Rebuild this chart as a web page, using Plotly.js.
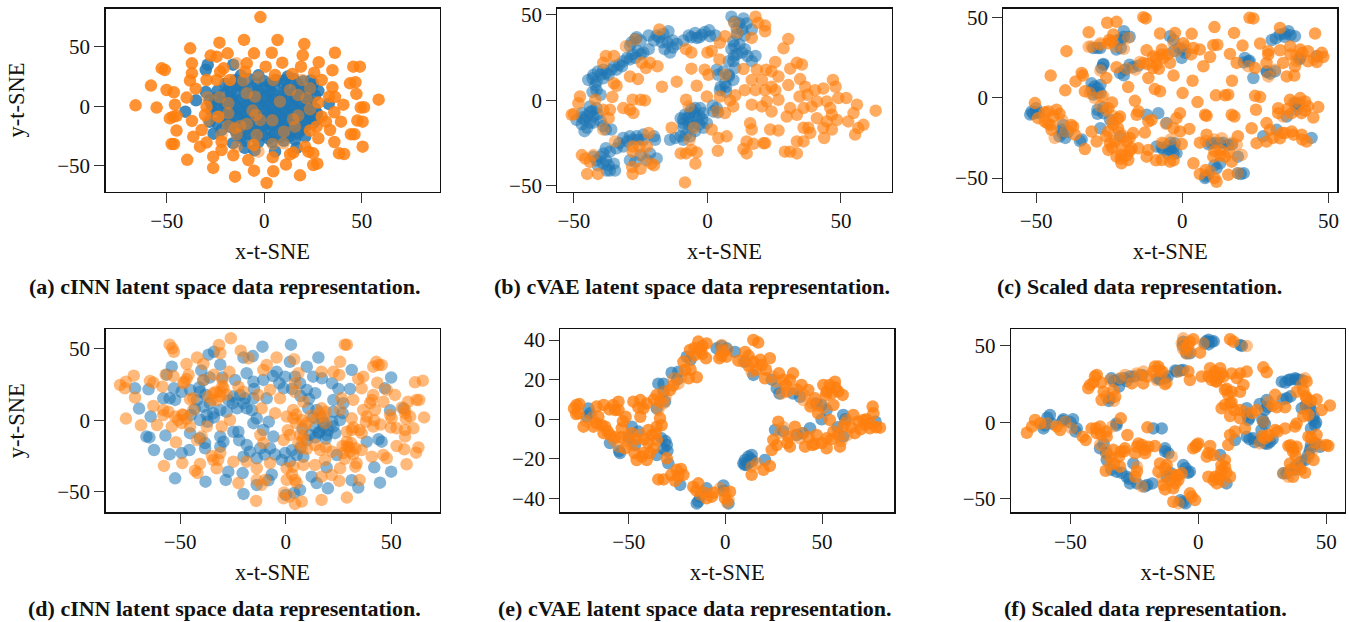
<!DOCTYPE html>
<html><head><meta charset="utf-8">
<script src="https://cdn.plot.ly/plotly-3.0.1.min.js"></script>
<style>html,body{margin:0;padding:0;background:#fff;overflow:hidden}</style>
</head><body><div id="chart" style="width:1349px;height:622px"></div>
<script>
const captions=["(a) cINN latent space data representation.","(b) cVAE latent space data representation.","(c) Scaled data representation.","(d) cINN latent space data representation.","(e) cVAE latent space data representation.","(f) Scaled data representation."];
const xTitle="x-t-SNE", yTitle="y-t-SNE";

const aBlue=[[-29,35],[-30,30.5],[-16,35],[-40.5,-4.5],[-35,5],[10.5,22],[25,19],[27.7,13],[33,2],[-10,-35],[16.6,-35],[15.7,-28],[21,-25.5],[5.5,-38],[-26,-23],[-24.4,-14],[-16,-31],[-5,-37],
[-15,22],[-8,23],[0,21],[6,22],[15,23],[20,21],[-18,16],[-12,17],[-6,15],[1,16],[5,17],[12,15],[18,16],[24,15],
[-21,10],[-14,11],[-8,9],[-2,10],[4,11],[9,9],[15,10],[20,11],[26,9],[-22,4],[-16,5],[-10,3],[-4,4],[2,5],[7,3],[12,4],[18,5],[24,3],
[-24,-2],[-18,-1],[-13,-3],[-7,-2],[-1,-1],[4,-3],[10,-2],[15,-1],[21,-3],[26,-2],[-20,-8],[-14,-7],[-9,-9],[-3,-8],[3,-7],[8,-9],[13,-8],[19,-7],[24,-9],
[-17,-14],[-11,-13],[-5,-15],[1,-14],[6,-13],[12,-15],[17,-14],[22,-13],[-15,-20],[-9,-19],[-3,-21],[3,-20],[9,-19],[14,-21],[19,-20],[-12,-26],[-5,-25],[2,-27],[8,-26],[13,-25],
[-20,19],[-12,20],[-4,19],[3,19],[10,19],[17,19],[-24,13],[-17,13],[-10,14],[-3,13],[3,13],[10,12],[16,13],[22,12],[-25,7],[-18,7],[-12,6],[-6,7],[0,7],[5,6],[11,7],[16,7],[22,7],[-27,1],[-20,2],[-15,1],[-9,0],[-3,1],[2,1],[8,0],[13,1],[18,2],[23,1],[-22,-5],[-16,-4],[-11,-5],[-5,-5],[1,-4],[6,-6],[11,-5],[17,-4],[22,-6],[27,-6],[-19,-11],[-13,-10],[-7,-11],[-1,-10],[5,-10],[10,-12],[15,-11],[21,-11],[25,-14],[-18,-17],[-13,-17],[-7,-17],[-1,-17],[4,-16],[10,-17],[15,-16],[21,-17],[-14,-23],[-8,-23],[-1,-24],[5,-23],[11,-23],[17,-23],[-10,-29],[-3,-30],[4,-30],[10,-29],[-30,12],[-28,5],[-27,-4],[-28,-13],[-22,-20],[27,-11],[24,22],[12,25],[-3,26],[-12,26]];
const aOrange=[[-2,75],[-10.4,55.8],[6.8,55.7],[-23,53.5],[20.5,52.4],[-38,48.7],[-18.8,44.5],[-27.5,42.6],[-24.4,41.7],[-5.3,44.5],[3.8,45],[19.7,42.9],[36.2,45],[-37.1,36.1],[9.2,36.7],[27.9,37],[-14.2,36.1],[-9,36.1],[18.8,33.3],[0.7,33.3],[-52.6,31.9],[-51,30.5],[45.6,33.3],[49,33.3],[34.9,30.3],[-20.9,31.9],[-22.6,29],[-37.1,27.7],[-9.9,29],[25.6,28.3],[14.4,27.2],[5.5,26.3],[-29.6,22.1],[-24.4,22.1],[-17.6,22.1],[-10.8,21.6],[29.4,22.1],[-3.1,24.4],[4.6,22.1],[-38.1,21.6],[19.5,22.1],[-58.1,17.4],[43.9,19.3],[46.7,20.2],[-35.2,14.8],[-50.1,13.7],[-46.4,11.8],[34.9,16],[13.2,13.7],[47.2,10.4],[-39.8,7.3],[33.2,8.1],[36.2,7.8],[23.4,15.1],[17.4,9.5],[21.7,6.7],[-9,10.9],[-4.8,8.1],[-29.2,7.6],[-23,7.6],[58.6,5.6],[-66,0.8],[-45.8,1.4],[-55.2,-1.1],[40.5,1.4],[49.4,-1.1],[51.1,-0.8],[27.7,3.1],[8,3.9],[-18.5,2.5],[-29.6,-0.3],[23.4,-2.5],[35.9,-5],[-6,-3.6],[-45,-8.1],[-46.7,-8.7],[-48.4,-10.1],[-30.4,-7.3],[-23.6,-8.7],[-18.5,-5.9],[-4.3,-7.3],[-2.2,-11.5],[4.1,-11.8],[17.4,-7.8],[14.8,-10.9],[-37.1,-12.3],[-28.7,-11.5],[29.4,-8.7],[39.3,-12.9],[47.7,-12],[50.4,-12.9],[31.6,-12.9],[-9,-14.8],[-12.4,-16.5],[-15,-18.5],[-18.5,-16.5],[15.7,-17.1],[-45,-20.4],[-32.1,-19.9],[33.7,-19.9],[26.8,-17.1],[23.4,-20.4],[-21.9,-24.1],[-36.4,-25.5],[44.4,-23.5],[46.2,-23.5],[-3.9,-24.1],[10.1,-21.3],[27.7,-26.9],[-21.9,-29.7],[-14.2,-23.5],[35.9,-30],[9.9,-31.1],[4.3,-31.7],[-29.6,-30.5],[-47.5,-31.7],[-46.3,-31.7],[-33,-33.9],[-14.2,-33.9],[-5.6,-32.5],[20.9,-33.9],[50.4,-33.9],[-3,-38.1],[22.6,-38.1],[25.1,-39.5],[-21.9,-36.7],[-26.2,-42.3],[-15.9,-41.2],[4.3,-42.9],[13.2,-40.3],[14.9,-38.9],[38.3,-39.5],[40.9,-40.1],[-39.5,-45],[-8.2,-45.1],[11.1,-49],[25.1,-49.3],[27.2,-48.2],[-26.2,-51.8],[-5.3,-54.1],[4.6,-54.6],[-15,-59.1],[18.3,-58],[1.2,-64.4]];

const bBlue=[[-44.6,12],[-42.7,15],[-41,17],[-39,18],[-41.5,11],[-39,13],[-37,15],[-35,20],[-33,21],[-31.5,23],[-30,25],[-28,27],[-26,29],[-24,28],[-27,36],[-28.4,34],[-26.5,37],[-19,38],[-20,35],[-16.5,39],[-14.6,40.5],[-15,34],[-14,28],[-16,30],[-11.5,33],[-7,38],[-4.6,39.5],[-2,38.5],[0.7,41],[1,37.5],[-4,36.6],[9,49],[13.5,48],[14.7,45],[13,41.5],[16.6,41.5],[11,38.5],[9.7,34.6],[12,32.7],[14,30],[9,30],[11,27],[16.6,23],[18,26],[9.7,23],[10.4,19],[3.5,18],[6,17],[4.7,6],[7,5],[6.6,10],[9.7,12],
[-41.5,6],[-40,3.3],[-42,9],[-44,-3.5],[-47,-7.4],[-49,-11.4],[-46,-11.4],[-42.7,-9.4],[-45,-16],[-46,-18],[-41.5,-4.5],[-42.7,-13],[-36,-17],[-38,-17],[-40,-12],
[-39,-31],[-36.5,-30],[-34,-28],[-31.5,-22],[-29,-21],[-26.5,-21],[-24,-23],[-19.6,-23],[-20,-21],[-31.5,-27],[-41.5,-35],[-39,-37],[-36.5,-41],[-34.6,-41],[-37.7,-41],[-42.7,-33],[-29,-35],[-22.7,-35],[-19,-34],[-21.5,-31],
[-14,-23],[-10,-21],[-9,-23],[-6.5,-21],[-10,-10.4],[-8.4,-8.4],[-6.5,-7.4],[-4.6,-4.5],[-2.7,-4.5],[-1.5,-7.4],[-4,-10.4],[-6.5,-12.3],[-9,-13.3],[-5.2,-15.3],[-0.2,-13.3],[-1.5,-16],[3.5,-4.5],[2.2,-6.5],[-4.6,-18],
[-43,13],[-40,15],[-38,16],[-36,18],[-34,18],[-32,20],[-29,24],[-27,25],[-25,27],[-22,30],[-25,35],[-29,32],[-22,38],[-18,37],[-17,34],[-13,31],[-13,35],[-9,35],[-6,37],[-3,37],[-1,40],[3,38],[10,46],[12,45],[11,42],[14,38],[10,32],[13,28],[10,26],[15,26],[8,23],[8,15],[4,15],[5,8],[7,8],[8,14],[-43,5],[-44,-7],[-45,-9],[-43,-6],[-47,-10],[-44,-13],[-41,-8],[-39,-15],[-47,-14],[-38,-28],[-40,-33],[-38,-35],[-37,-38],[-35,-37],[-41,-38],[-33,-25],[-30,-24],[-28,-23],[-26,-23],[-24,-20],[-27,-36],[-25,-32],[-12,-22],[-8,-20],[-9,-11],[-7,-10],[-5,-7],[-3,-9],[-6,-5],[-9,-16],[-7,-14],[-3,-14],[-2,-11],[2,-3],[4,-7]];
const bOrange=[[-18,41.5],[-30.5,31.7],[-27,35.6],[-38,26],[-35,26],[-39,22],[-34,8.6],[-35,10],[-29,14],[-26,12.5],[-24.6,22],[-21.5,22],[-18.7,20],[-23,19],[-17,8],[-11.5,11],[-4,8.6],[-6,18.6],[-8,30],[-6,28],[0,28],[1.6,29],[-1,18],[0.4,15],[4.7,33.7],[6.6,37.6],[4.5,24],[10,45.4],[11,39.5],[16.6,36.6],[18,49],[19,45.4],[21.6,43.8],[21.6,40.5],[30.3,36],[28.5,30.5],[33.5,22],[35.4,21],[31,18.6],[25.4,22.5],[22,18],[18.5,18],[13.5,18.4],[6.6,15],[16.6,12],[20.4,12],[24,17],[26.6,14],[24,8],[18,6],[21.6,6],[25.4,6],[30.3,9],[34.7,12.5],[36.6,8],[40.3,6],[43.4,7],[47,12],[48,8],[14,6],[10.4,3],[8.5,0],[9.7,-3.5],[16.6,-2.5],[20.4,-3.5],[22.2,-0.6],[26.6,0.4],[24,-6.5],[31,-4.5],[29.7,-9.4],[33.5,-8.4],[34.5,2.3],[37.5,3.3],[39,-3.5],[36,-4.5],[41,-0.6],[44.7,-0.6],[49,1.4],[52,1.4],[56,-2.5],[63,-6],[46,-4.5],[41,-10.4],[46.6,-8.4],[44.7,-12.3],[48.5,-11.4],[54.7,-7.4],[52.7,-12.3],[58.4,-14.3],[56.5,-16.2],[55.3,-20],[46.6,-17],[43.4,-16],[37.8,-16],[36,-16],[38.5,-19],[43.7,-22],[36,-24],[33.5,-24],[33.5,-31],[31,-30],[29,-30],[23.5,-17],[26.6,-17.6],[16,-13.3],[16.6,-17],[14.7,-24],[17.2,-25.4],[21.6,-25],[21,-25],[13.5,-28.4],[14.7,-31],[7.2,-21],[4.1,-22],[1.6,-17],[3.9,-29.5],[-6,-29],[-4,-30.5],[-8,-31],[-10,-31],[-4.5,-37],[-8.4,-48],[-6.7,-23],[-13.4,-16],[-5,-16],[-8,0.4],[-7,-3.5],[-0.2,2.3],[4.7,2.3],[3.5,-6.5],[6.6,-7.4],[-25,0.4],[-28,0.4],[-23.4,0],[-31.5,-4.5],[-29,-5.5],[-27.7,-7.4],[-42,0.4],[-35.6,2],[-36.5,-5.5],[-39,-5.5],[-37,-10.4],[-39,-17],[-47.7,2.3],[-48.3,-1.6],[-50.8,-8.4],[-50,-8],[-34.6,-24],[-22,-19],[-28,-27],[-25.4,-27],[-22.7,-27],[-28,-30],[-47,-32],[-45.7,-34],[-42.7,-32],[-44,-36],[-45,-43],[-41,-43],[-28.2,-39],[-28,-43],[-25,-40],[-24,-33],[-21,-37],[-20,-38]];

const cBlue=[[-51.5,-8.5],[-50,-6.5],[-52,-10.5],[-49,-9.5],[-40.7,-17],[-41.3,-20],[-40,-25],[-34.4,-26],[-27,20.6],[-27.6,18.5],[-31,9],[-29,6],[-30.4,2],[-28,3],[-29,-7.5],[-27,-9.6],[-28,-19],[-24.7,-13.7],[-21.3,-24],[-20,41.5],[-22,36],[-22.5,30],[-30.4,31],[-28,31],[-21.3,15.4],[-19.6,17.5],[-18,20.6],[-12.2,-10.6],[-8.2,-9.6],[-5.4,-15.8],[-4.2,38.3],[-3,29],[0.3,30],[-0.2,24.8],[-8.8,-30.4],[-6.5,-32.5],[-4.2,-32.5],[-2.5,-28.3],[-2,-34.6],[10,-28.3],[12.9,-28.3],[15.7,-29.4],[12.9,-40.8],[11.7,-44],[7.8,-50],[8.9,-48],[20,-47.5],[19,-36.7],[21.4,24.8],[22.6,22.7],[24.3,12.3],[28.8,16.5],[31.7,16.5],[33.4,39.4],[36.3,41.5],[38.5,38.3],[30.6,36],[40.3,24.8],[38.5,-3.3],[39,-7.5],[35.7,-11.7],[32.3,-20],[27.7,-24],[44.2,-25],[46,25.8],
[-51,-10],[-50,-9],[-41,-22],[-39,-21],[-42,-24],[-35,-27],[-27,21],[-30,7],[-28,8],[-29,3],[-31,5],[-27,-6],[-29,-10],[-21,36],[-20,38],[-18,38],[-21,31],[-29,31],[-20,14],[-17,19],[-15,20],[-3,36],[-1,31],[1,28],[-7,-31],[-5,-30],[-3,-31],[-4,-28],[-3,-35],[-5,-35],[9,-29],[11,-28],[14,-28],[17,-29],[11,-42],[19,-47],[21,-47],[8,-49],[35,40],[37,39],[35,38],[32,37],[40,24],[39,-5],[40,-4],[29,16],[30,15],[23,23],[21,22]];
const cOrange=[[-25.7,46.7],[-22.5,47.3],[-32,40.8],[-13.3,50.2],[-12.5,49.4],[23,49.8],[24.3,49.4],[11,44],[17.7,40.4],[45.4,40],[3.2,39.8],[-7.6,40],[-2.5,40.4],[-23.6,39.4],[-18.5,37.3],[-39.6,29],[-32,31.7],[-31,32],[-28,34],[-25.3,34],[-23,32],[-20,30.4],[-12.2,29.6],[10.6,32.7],[12,33],[20.6,32.5],[26.6,33.8],[33.4,43.5],[29.4,29],[33.4,29.6],[36.9,32],[40.3,30],[43,29],[47.7,28],[48.2,25.4],[43,22.7],[46,22.3],[-3,34],[0.3,34],[3.8,31],[6,30],[-7,30],[-10,25.8],[-6.5,24.8],[-4.2,21.7],[-8.8,20.6],[-13.3,21.7],[-14.5,22.3],[-10,18.5],[-16,17.5],[-22.5,19],[9.5,25.4],[7.2,19.6],[16.3,27.3],[18.6,21.7],[22.6,19.6],[24.9,18.5],[28.8,21.7],[29.4,26.9],[34.5,21.7],[38.5,19.6],[35.7,13.3],[38.3,13.8],[29.4,13.3],[31.7,17.5],[-3,13.8],[3.5,10.6],[17,10.6],[-45,13.8],[-34,13.8],[-34.4,15.4],[-28,17],[-26,12.3],[-36.5,10.2],[-11.6,12.3],[-40,4.6],[-18.5,6.7],[-9.4,5.4],[-7.6,4],[0.1,2.9],[-33.3,4],[-27.6,0.8],[11.5,1.5],[14.6,1.5],[15.7,1.9],[24.9,1.2],[26.6,0.4],[-16.2,-1.9],[5.2,-2.7],[25.2,-7.5],[-50.4,-3.3],[-49.3,-12.7],[-45.8,-8.5],[-43,-7.5],[-44,-11.7],[-47,-14.8],[-44.7,-20],[-43.6,-25],[-37.3,-18],[-36.7,-23],[-33.3,-32],[-29.3,-27.3],[-31,-21],[-31.6,2.9],[-25.3,-6.5],[-28,-5.4],[-21.3,-11.7],[-23.6,-16.9],[-25.3,-21],[-24.7,-28.3],[-25.3,-32.5],[-21.3,-22],[-16.8,-22],[-19,-27.3],[-17.3,-31.5],[-15,-31.5],[-20.8,-35.6],[-22.5,-36.7],[-18.5,-38.8],[-20.8,-40.8],[-12.2,-36.7],[-11.6,-32.5],[-12.8,-21.7],[-15,-8.5],[-11.6,-14.8],[-10.5,-13.8],[-15.6,-10.6],[-0.8,-9.6],[-2,-12.7],[2.4,-19.4],[-0.8,-21],[-3,-19],[-5.6,-16.3],[-6.5,-28.3],[-0.2,-28.8],[-7,-38.8],[-4.2,-39.8],[3.8,-40.8],[7.8,-10.6],[8.3,-11.3],[16.9,-10.6],[17.8,-11.7],[8.3,-23],[6,-28],[13.5,-25.2],[19,-24],[18.6,-29.4],[12.9,-32.5],[10.6,-36.7],[14.6,-36.7],[16.9,-39.8],[20.3,-35.6],[6,-47.5],[9.5,-46],[11.7,-52.3],[15.7,-48],[19,-47],[23.7,-19],[28.8,-15.8],[30,-20],[25.4,-28.3],[28.8,-27.3],[34,-22],[33.4,-25.2],[38,-23],[40.8,-23],[42.5,-27.3],[37.4,-21],[32.8,-9.6],[34.5,-11.7],[37.4,-9.6],[36.8,-1.3],[40.3,-0.2],[42,-2.3],[43,-5.4],[46.5,-5.8],[40.8,-9.6],[44.8,-12.3],[32.8,-6.5],
[-47,-9],[-42,-10],[-41,-14],[-46,-16],[-45,-17],[-38,-17],[-40,-21],[-26,-8],[-24,-11],[-22,-13],[-24,-15],[-22,-19],[-26,-24],[-20,-24],[-18,-25],[-21,-30],[-18,-33],[-21,-38],[-19,-36],[-24,-31],[-23,-27],[-9,-39],[-3,-39],[-4,-26],[-7,-28],[8,-27],[11,-26],[13,-36],[11,-33],[16,-34],[17,-28],[8,-45],[11,-50],[-7,27],[-9,25],[-5,27],[-2,29],[1,32],[3,27],[-12,21],[-8,18],[-19,18],[39,26],[37,27],[39,23],[41,28],[46,26],[45,24],[-25,36],[-28,33],[-24,35],[36,-7],[38,-3],[40,-3],[42,-8],[35,-22],[31,-25],[41,-26],[-24,-3],[-27,1],[-30,0]];

const dBlue=[[2.5,53],[-11,51.6],[15.5,44],[-15.6,45],[-20,44],[-34,48],[-36.6,46],[-54,37.6],[-56.4,32],[31.3,35.3],[10,37.6],[50,30],[2,41],[-31,39],[-40,35],[-71.4,22.4],[-65,21.7],[-69.5,8.2],[-64,2.6],[-66,-11.4],[-64.6,-12],[-62.4,-20.8],[-55,-23.8],[-57,-10.7],[-49.3,-23],[-45.6,-20.8],[-52.4,-40.7],[-38,-43],[-28.4,-41.8],[-20,-51.6],[-20.4,-37],[-27.2,-36],[44.7,-43.7],[50,-36],[42,-33],[34.4,-47.2],[20,-47.7],[6.8,-48.8],[4,-51],[0,-52.3],[19.4,-33],[12.3,-39.5],[14.7,-44],[31.3,-42],[-6.6,-38],[-8.2,-42],[-13.7,-45.3],[38.4,-15],[45.5,-15],[44,-13.3],[47,22.4],[49.5,7],[55.8,8.4],
[-53,22.4],[-58,15.4],[-55,15.4],[-52.4,14.3],[-49.3,20],[-40.6,20],[-42,14.3],[-39,9.6],[-37.4,3.7],[-40.6,0.2],[-34.3,5],[-31,7.2],[-45.3,-9],[-40.6,-12.6],[-38.2,-19.6],[-38.2,-16],[-31,-11.4],[-29.5,-15],[-31,-18.5],[-22.4,-8],[-18.5,-17.3],[-20,-25.5],[-13.7,-26.6],[-12,-19.6],[-7.4,-19.6],[-1.9,-27.8],[-5.8,-11.4],[-10.6,-6.8],[-13.7,1.4],[-15.3,-2],[-18.5,8.4],[-23,8.4],[-24.8,16.6],[-21.6,17.8],[-24,28.3],[-18.5,33],[-15.3,27],[-10.6,28.3],[-4.3,34],[-0.3,30.6],[-1,22.4],[-9,15.4],[-15.3,15.4],[-19.3,15.4],[4.4,30.6],[6.8,26],[10,21.3],[14,19],[17.2,29.4],[13,30.6],[22.6,14.3],[30.5,22],[27.3,12],[10.7,8.4],[14.7,7.2],[22.6,6],[25.8,0.2],[22.6,-4.4],[17.9,-2],[15.5,-9],[19.4,-10.3],[23.4,-9],[11.5,-10.3],[24.2,-24.3],[2,-29],[8.4,-25.5],[-0.3,-23],[5.2,-24.3],[-24.8,-8],[-35.9,12],[-45.3,21.3],[-45,3.7],
[14,-5],[16,-8],[18,-5],[20,-7],[14,-12],[19,-13],[22,-1],[17,2],[13,2],[27,5],[-27,14],[-25,12],[-37,-1],[-34,2],[-28,6],[-20,12],[-16,7],[-43,8],[-38,18],[-41,23],[-17,-22],[-10,-24],[-5,-24],[3,-21],[7,-19],[10,-14],[8,-6],[11,15],[7,17],[3,22],[-3,26],[-6,31],[-30,30],[-36,30],[-39,28],[22,26],[25,22],[-22,-14],[-8,-1],[-15,22]];
const dOrange=[[-26,57.5],[-55,53],[-53.7,50.5],[-53,48],[-31.6,52.8],[28,53],[29,53],[-21.3,48.8],[-17.6,43.5],[-4.3,44],[4,42.8],[-42,44],[-31,47],[-47,39.5],[-39,39.5],[25.8,41],[43,41],[44,38.8],[45.5,38.8],[41.5,37.6],[-9,38.8],[-10.6,35.3],[-26.7,34],[17,34],[22.6,34],[25.4,31.8],[6,33],[-72,31.3],[-78.5,24.8],[-75.7,27],[-76.2,22.4],[-64.3,27.6],[-62.7,26.4],[-56.9,32],[-53.2,31],[-46,32],[-48,27],[-48.5,26],[-39,28.3],[-34,32],[-30,28.3],[36.8,30.6],[34.4,29],[65,27.8],[61.3,26.6],[43.4,26.4],[36,22.4],[-71.4,16],[-58.4,23.6],[-45.3,14.7],[-43.8,15.4],[-34.3,19],[-31,20],[-36.6,16.6],[-32.6,14.3],[-29.5,22.4],[-22.4,23.6],[-13,17.8],[-7.4,21.3],[-2.7,15.4],[4.4,26],[4.4,20],[41.5,17.8],[40.8,14.3],[47.9,21.3],[51.8,17.8],[46.3,13],[58,13],[62,14.3],[63.3,14.3],[26.5,15.4],[32,14.3],[-62.7,10],[-58,7.2],[-58,3.7],[-55.6,6],[-52.4,2.6],[-48.5,3.7],[-50.9,0.2],[-43.8,7.2],[-75.7,1.2],[-61,-3.3],[-68.6,-3.5],[-54,-4.4],[-49.3,-2],[-45.3,-4.4],[-37.4,-4.4],[-30.3,-4.4],[-26.4,0.2],[-11.4,8.4],[-5,5],[8.4,13],[3.6,7.2],[0.5,2.6],[3.6,1.4],[7.6,0.2],[10,-2],[17,8.4],[17.9,2.6],[14.7,1.4],[18.6,-2],[25.8,7.2],[31.3,1.4],[36.8,7.2],[42.3,7.2],[38.4,2.6],[49.5,3.7],[50.2,1.4],[56.6,7.2],[59,2.6],[65.6,2],[56.6,5],[31.3,-6.8],[35,-6.8],[29,-8],[41.5,-4.4],[49.8,-5],[52.6,-5.6],[56.6,-6.8],[60.5,-5.6],[56.6,-11.4],[2,-10.3],[-1,-13.8],[6.8,-10.3],[8.4,-11.4],[6,-16],[7.6,-19.6],[13.9,-17.3],[16.3,-20.8],[-42,-13.8],[-39.8,-11.4],[-52,-15.4],[-12,-10.3],[-10.6,-16],[29,-18.5],[30.5,-22],[27.3,-23],[33,-19.6],[36,-20.8],[40.8,-25.5],[46.3,-24.3],[47.9,-26.6],[52.6,-18],[56.2,-20.3],[62.9,-19],[61.8,-22.7],[57.3,-30.8],[33.6,-30.1],[33,-32.5],[-31,-23],[-32,-27.8],[-34.3,-27.8],[-32.7,-33.6],[-24.8,-29],[-18.5,-29],[-7.4,-30],[-13.7,-33.6],[0.5,-33.6],[3.6,-32.5],[8.4,-31.3],[13.9,-31.3],[18.6,-27.8],[25.8,-33.6],[-57.7,-32],[-49,-30],[-40.6,-30.6],[-43,-35.3],[-41.8,-37],[-22.4,-44],[-13.7,-41.8],[-11.4,-45.3],[-9.8,-41.8],[-14,-56.5],[0.5,-41.8],[4.4,-41.8],[5.2,-44],[25.4,-42.5],[17,-39.5],[21.8,-38.3],[35,-41.8],[-0.8,-50.7],[-1,-54.7],[2,-53.5],[4.4,-58.6],[7.6,-57],[17,-55.8],[29,-54.2],
[-33,20],[-31,17],[-35,14],[-30,24],[-28,18],[5,-2],[9,-4],[12,3],[16,5],[19,6],[5,4],[1,-7],[29,-15],[30,-19],[27,-18],[32,-24],[31,-16],[28,-27],[36,-9],[32,-5],[-47,29],[-49,4],[-47,1],[-20,20],[3,-38],[-35,-25],[8,-14],[10,-20],[22,-22],[19,-19],[40,12],[42,0],[38,-1],[57,1],[55,9],[45,-3]];

const eBlue=[[-70.9,5.5],[-71.7,1.3],[-32,18],[-34.7,18],[-27.8,23.5],[-24.3,24],[-20,31.6],[-4.5,35.8],[0.7,35.8],[5,34],[14.5,22.4],[10.2,29],[26.6,15.6],[38.6,11.4],[49.7,7.2],[52.4,4.7],[49.8,0],[61,2.2],[77.7,-1.2],[25.7,-5.4],[36.9,-7.9],[43.8,-4.5],[61,-8.7],[11.9,-18.8],[13.6,-18],[9.3,-22.2],[11,-23],[10.2,-20.5],[20.5,-20.5],[-1,-33.4],[1.6,-42.4],[-14.8,-42.4],[-14,-41.5],[-9.7,-34.8],[-23.4,-33.1],[-29.5,-22.2],[-30.3,-13],[-33,-9.6],[-35.5,-18],[-45,-6.2],[-48.4,-3.7],[-54.5,-17],[-59.7,-12],[-31.2,9],[-35.5,5.5],[-46.7,-13],
[-70,3],[-32,14],[-25,20],[-18,30],[-2,37],[13,-20],[12,-22],[10,-23],[14,-21],[47,8],[-31,-11],[-32,-15],[-30,-16],[-50,-9],[-55,-16],[-13,-39],[-1,-36],[58,-4],[30,-6],[40,-7],[24,20],[28,13],[35,13],[62,0]];
const eOrange=[[-77,7.2],[-75.5,7.7],[-78.3,5.5],[-77.2,2.7],[-73.4,-3.7],[-66.6,6.4],[-63,7.2],[-58,7.2],[-55.3,8.9],[-57,4.7],[-55.3,4.7],[-51.6,1.3],[-47.6,8.9],[-44,9.7],[-40.7,8],[-42.4,5.5],[-44,1.3],[-65.7,1.3],[-66.6,-2],[-68.3,-3.7],[-62.2,-3.7],[-63,-7],[-59.7,-7.9],[-58,-10.4],[-53.6,-4.5],[-51,-8.7],[-48.4,-7],[-44,-7.9],[-55.3,-13.8],[-51.9,-14.6],[-48.4,-13],[-38,-7.9],[-35.5,-3.7],[-39.8,-5.4],[-37.2,-14.6],[-35.5,-10.4],[-45.9,-20.5],[-40.7,-20.5],[-42.4,-17],[-43.3,-18.8],[-33.8,0.5],[-34.7,4.7],[-35.5,12.3],[-32,14],[-28.6,14.8],[-24.3,18],[-26.6,20.7],[-19,20.7],[-14.8,21.2],[-20.9,24.9],[-21.7,29],[-18.3,35],[-15.7,32.4],[-14,39.2],[-13,35],[-10,30.8],[-9.7,38.3],[-33.8,9],[-32,8],[-1.9,37.5],[-3.1,30.8],[-1,34],[0.7,31.6],[14.5,40],[17,38.7],[10.2,34],[6.7,29.6],[9.3,29],[14.5,29],[18,30],[23,30.8],[13.6,24],[18.8,27.4],[20.5,20.7],[24.8,21.5],[27.7,23.2],[35,23.2],[31.3,17.3],[29,13],[33.4,19.8],[39.4,17.3],[42.9,14.8],[40.3,9.7],[46.4,10.6],[44,6.4],[48,3],[54,-0.3],[50.7,17.3],[52.4,14],[56.7,19],[58.4,14],[60.7,12.3],[55.9,7.2],[54,17.3],[66.2,2.2],[62.8,-0.3],[68.8,-1.2],[76.2,6.4],[76.6,3],[72.2,-2.9],[74.8,-4.5],[80,-4.2],[71.4,-0.3],[67,-7],[61,-3.7],[58.4,-7.9],[55.9,-6.2],[59.3,-13.8],[52.4,-14.6],[52.4,-9.6],[27.4,-1.2],[28.3,-7],[32.6,-8.7],[33.4,-13.8],[24.8,-10.4],[24,-15.5],[26.6,-13],[36,-3.7],[40.3,-7],[41.2,-13.8],[46.4,-12.4],[47.2,-7.9],[38.6,-9.6],[13.6,-23.9],[13.6,-28],[19.7,-25.5],[23,-23.5],[16.2,-22.2],[-34.7,-30.3],[-32,-30.3],[-30.3,-19.7],[-25.2,-25.5],[-21.7,-28],[-24.3,-28.9],[-16.6,-34],[-13,-38],[-9.7,-39.8],[-7,-39],[-14,-32.3],[-2.8,-34.8],[2.4,-36.5],[-0.2,-39.8],[1.6,-40.7],
[-76,3],[-72,-1],[-69,1],[-64,-3],[-61,-6],[-57,-9],[-54,-9],[-50,-11],[-46,-10],[-42,-10],[-40,-12],[-36,-7],[-33,-3],[-47,-17],[-39,-17],[-53,-1],[-60,5],[-45,6],[-37,10],[-31,11],[-27,17],[-23,21],[-18,25],[-18,31],[-12,33],[-12,37],[-16,36],[-2,35],[-2,32],[1,35],[12,32],[16,25],[12,27],[21,25],[26,19],[30,20],[32,14],[37,15],[41,12],[45,8],[48,7],[51,6],[52,12],[55,13],[57,16],[62,-2],[65,-4],[70,-5],[73,0],[75,-2],[78,-4],[63,-8],[60,-11],[30,-4],[32,-12],[36,-8],[43,-9],[45,-13],[50,-12],[55,-10],[-28,-28],[-26,-31],[-23,-25],[-15,-36],[-11,-37],[-6,-37],[0,-37],[1,-42]];

const fBlue=[[3.9,52.8],[5.2,52.8],[2.6,51.7],[16.3,50.7],[-5.9,52.8],[-3.3,45.2],[-4.6,45.2],[-34,28.8],[-31,23.4],[-26.7,30],[-22,31],[-16,28.8],[-13,28.8],[-8.5,33.2],[-5.9,34.3],[-34.5,15.7],[32.6,26.6],[35.2,27.7],[37.8,28.8],[40.4,27.7],[34.5,15.7],[26.7,14.6],[26,8],[18.9,9.2],[19.5,1.5],[25.4,0.4],[24.7,-5],[40.4,9.2],[43.6,10.3],[45,1.5],[45.6,-1.7],[21.5,-10.5],[28,-12.7],[26,-13.8],[18.9,-9.4],[-58,4.8],[-52.7,2],[-49,2],[-60.5,-4],[-47.5,-4],[-32,-0.7],[-38.4,-17],[-35.8,-24.7],[-32,-32.3],[-28,-35.6],[-26.7,-40],[-20,-41],[-25.4,-26.9],[-13,-17],[-11.7,-20.3],[-5.9,-28],[-3.3,-32.3],[-12.4,-35.6],[-5.9,-52],[-14.3,-4],[-17.6,-4],[14.3,-11.6],[11,-40],[8.5,-21.4],[43.6,-18],[41.7,-24.7],[45.6,-13.8],[47.5,-16],[37.8,-29],[34.5,-33.4],[33.2,-33.4],
[4,54],[3,53],[6,53],[4,51],[-6,50],[17,50],[-33,27],[-31,28],[-29,29],[-28,27],[-25,30],[-15,28],[-12,30],[-9,34],[-7,34],[-35,14],[36,28],[38,28],[39,28],[34,26],[36,17],[33,15],[27,10],[24,12],[19,5],[20,3],[25,2],[26,-1],[42,11],[44,8],[45,4],[46,0],[44,-4],[20,-11],[22,-13],[24,-12],[27,-14],[29,-11],[-59,3],[-57,-1],[-53,1],[-50,0],[-60,-2],[-48,-6],[-32,-2],[-36,-20],[-37,-14],[-34,-31],[-30,-33],[-27,-37],[-24,-40],[-21,-42],[-18,-40],[-13,-19],[-5,-30],[-4,-33],[-11,-33],[-5,-53],[-7,-51],[43,-21],[40,-26],[38,-31],[44,-15]];
const fOrange=[[-5.9,55],[-2,54.4],[-6.5,51.7],[-3.3,52.8],[-5.2,47.4],[-4.6,45],[0.7,45.6],[2,51.7],[12.4,54.4],[13.7,52.8],[18.9,50],[25.4,36],[26.7,32.8],[-40.4,30],[-39.7,31],[-42.3,24.5],[-43,22.3],[-37,20],[-37.8,14.6],[-33.2,21],[-32.5,16.8],[-34.5,27.7],[-30.6,28.8],[-28.6,31],[-26,25.5],[-21.5,25.5],[-24.1,32],[-21.5,33.2],[-17,36.5],[-15.6,36.5],[-17.6,33.2],[-16.3,27.7],[-12.4,26],[-7.8,33.2],[-3.9,33.2],[-3.3,27.7],[1.3,30],[4.6,35.4],[6.5,33.2],[8.5,35.4],[5.2,27.7],[7,26.6],[9.8,30],[13,32],[16.3,32],[18.9,33.2],[17.6,24.5],[16.3,20],[10.4,21.2],[11.7,18],[10.4,11.4],[9.1,9.2],[12.4,12.4],[12.4,4.1],[16.3,8],[18.2,7],[22.8,8],[16.3,2.6],[27.3,13.5],[30,18],[30.6,9.8],[33.9,9.8],[25.4,0.4],[38.4,20],[40.4,24.5],[41.7,28.8],[42.3,26.6],[42.3,15.7],[46.2,15],[51.4,11],[48.2,8],[43,4.8],[41.7,9.2],[33.9,-4],[37.8,-2.8],[38.4,-0.7],[30,-5],[27.3,-8.3],[26,-10.5],[24,-13.8],[18.2,-4],[14.3,-6],[12.4,-8.3],[11.7,-14.8],[-0.7,-14.8],[0,-13.8],[-2,-17],[4.6,-15.5],[3.3,-22.5],[5.9,-21.4],[10.4,-24.7],[-67,-6.8],[-65,-2.8],[-63.8,1.5],[-61.8,-0.7],[-59,-0.7],[-55.3,-2.8],[-54,-5],[-52,0.4],[-49.5,-4],[-45.2,-9.4],[-44,-11.6],[-41.7,-4],[-38.4,-2.8],[-39.7,-7.2],[-35.8,-9.4],[-33.7,-2.8],[-30.3,2.6],[-27.7,-8.3],[-19.9,-3.3],[-38.4,-14.8],[-33.2,-18],[-35.8,-21.4],[-30.3,-19.2],[-31,-22.5],[-28.7,-17],[-34.5,-28],[-36.2,-31.7],[-30.6,-29],[-22,-14.8],[-19.5,-16],[-20.8,-20.3],[-23.4,-13.8],[-24.7,-20.3],[-17,-15.5],[-24,-29],[-24.7,-35.6],[-22,-42],[-10.4,-22.5],[-15,-26.9],[-15.6,-32.3],[-12.4,-28],[-11,-34.5],[-13.7,-41],[-13,-43.9],[-9.8,-43.2],[-7.8,-37.8],[-6.5,-33.4],[-9,-34.5],[-9.8,-52],[-7.8,-53],[-3.3,-46.5],[-1.3,-50.9],[-2.6,-48.7],[3.9,-35.6],[7.2,-40],[6.5,-35.6],[9.1,-31.2],[8.5,-34.5],[12.4,-35.6],[10.4,-29],[9.8,-38.9],[35.2,-15.5],[38.4,-16],[37,-19.2],[35.8,-26.9],[33.2,-33.4],[35.2,-35.6],[37,-35.6],[41.7,-33],[39,-29],[45,-24.7],[44.3,-19.2],[43,-9.4],[46.2,-8.3],[46.2,-13.8],[50,-14.8],[50.8,-15.5],
[-4,50],[-6,48],[-3,46],[-38,26],[-41,26],[-36,17],[-33,14],[-23,31],[-20,30],[-15,34],[-14,33],[-13,25],[6,31],[4,30],[8,29],[9,32],[7,27],[15,29],[13,20],[11,22],[13,13],[14,8],[21,6],[29,11],[25,-9],[28,-9],[31,-6],[41,21],[42,17],[44,14],[41,4],[36,-15],[37,-17],[38,-22],[39,-27],[36,-31],[40,-31],[43,-23],[45,-13],[48,-15],[44,-10],[-36,-18],[-34,-23],[-33,-27],[-29,-19],[-38,-8],[-40,-4],[-36,-6],[-21,-18],[-24,-16],[-24,-32],[-13,-30],[-11,-38],[-14,-36],[-9,-40],[-8,-35],[6,-38],[8,-37],[11,-33],[9,-28],[4,-20],[-1,-16]];

const W=1349,H=622;
const panels=[
 {blue:aBlue,orange:aOrange,box:[105.5,439.7,8.5,191.5],xr:[-81.4,89.9],yr:[-71.6,82.2],xt:[-50,0,50],yt:[-50,0,50],yTitle:true,oOp:0.85,bOp:0.85,cap:[224,287]},
 {blue:bBlue,orange:bOrange,box:[557.3,891.7,8.5,191.5],xr:[-56.2,69],yr:[-53.3,53.8],xt:[-50,0,50],yt:[-50,0,50],oOp:0.65,bOp:0.55,cap:[691.7,287]},
 {blue:cBlue,orange:cOrange,box:[1003.3,1337.3,8.5,191.5],xr:[-61.2,53],yr:[-58.4,55.6],xt:[-50,0,50],yt:[-50,0,50],oOp:0.72,bOp:0.6,cap:[1139.5,287]},
 {blue:dBlue,orange:dOrange,box:[105.5,439.7,329.3,512.3],xr:[-85.4,73],yr:[-64.5,63.8],xt:[-50,0,50],yt:[-50,0,50],yTitle:true,oOp:0.55,bOp:0.55,cap:[224,608.7]},
 {blue:eBlue,orange:eOrange,box:[560.3,894.3,329.3,512.3],xr:[-85.4,87.4],yr:[-46.9,45.4],xt:[-50,0,50],yt:[-40,-20,0,20,40],oOp:0.78,bOp:0.65,cap:[694.7,608.7]},
 {blue:fBlue,orange:fOrange,box:[1011,1345,329.3,512.3],xr:[-73.2,57.3],yr:[-58.9,60.9],xt:[-50,0,50],yt:[-50,0,50],oOp:0.75,bOp:0.65,cap:[1145,608.7]}
];
const FONT="'Liberation Serif', serif";
const layout={width:W,height:H,margin:{l:0,r:0,t:0,b:0},paper_bgcolor:'#fff',plot_bgcolor:'#fff',showlegend:false,annotations:[],font:{family:FONT,color:'#111'}};
const traces=[];
panels.forEach((p,i)=>{
  const s=i===0?'':String(i+1);
  const ax={showline:true,linecolor:'#111',linewidth:1.2,mirror:true,ticks:'outside',ticklen:10,tickwidth:1,tickcolor:'#333',showgrid:false,zeroline:false,tickfont:{family:FONT,size:21,color:'#111'},ticklabelstandoff:0};
  layout['xaxis'+s]=Object.assign({},ax,{domain:[p.box[0]/W,p.box[1]/W],range:p.xr,tickvals:p.xt,anchor:'y'+s,title:{text:xTitle,font:{family:FONT,size:22.5,color:'#111'},standoff:11}});
  const ya=Object.assign({},ax,{domain:[1-p.box[3]/H,1-p.box[2]/H],range:p.yr,tickvals:p.yt,anchor:'x'+s});
  if(p.yTitle) ya.title={text:yTitle,font:{family:FONT,size:22.5,color:'#111'},standoff:26};
  layout['yaxis'+s]=ya;
  const sx=(p.box[1]-p.box[0])/(p.xr[1]-p.xr[0]), sy=(p.box[3]-p.box[2])/(p.yr[1]-p.yr[0]);
  // orange marks that sit over a blue mark read as a plain half-transparent blend
  const oOps=p.orange.map(o=>p.blue.some(b=>Math.hypot((o[0]-b[0])*sx,(o[1]-b[1])*sy)<5)?0.5:p.oOp);
  [[p.blue,'#1f77b4',p.bOp],[p.orange,'#ff7f0e',oOps]].forEach(([pts,col,op])=>{
    traces.push({type:'scatter',mode:'markers',x:pts.map(d=>d[0]),y:pts.map(d=>d[1]),xaxis:'x'+s,yaxis:'y'+s,marker:{color:col,size:12.5,opacity:op,line:{width:0}},hoverinfo:'skip'});
  });
  layout.annotations.push({xref:'paper',yref:'paper',x:p.cap[0]/W,y:1-p.cap[1]/H,xanchor:'center',yanchor:'middle',showarrow:false,text:'<b>'+captions[i]+'</b>',font:{family:FONT,size:22,color:'#111'}});
});
Plotly.newPlot('chart',traces,layout,{displayModeBar:false,staticPlot:true});
</script></body></html>
